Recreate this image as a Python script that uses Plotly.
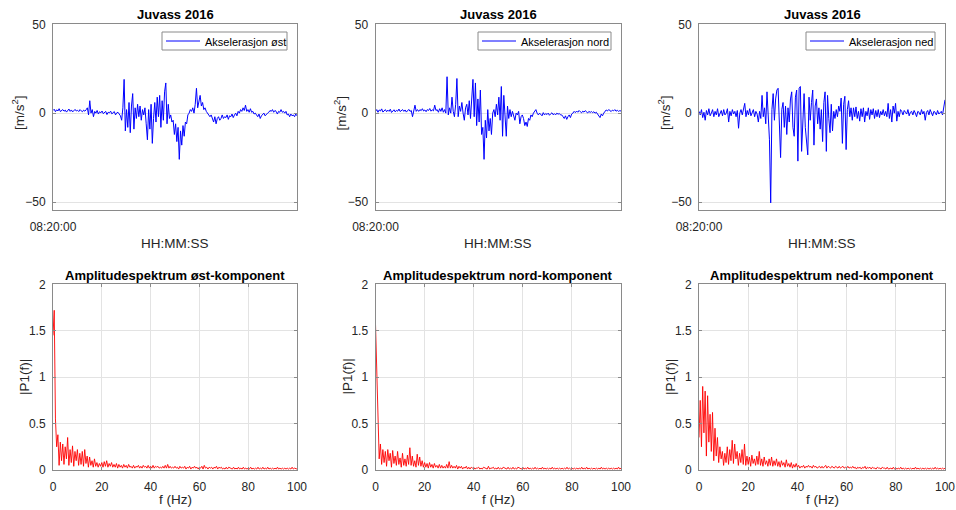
import pandas as pd
import plotly.graph_objects as go

# ---------------------------------------------------------------
# Akselerasjonsmålinger Juvass 2016 (tre komponenter) og amplitudespektre
# ---------------------------------------------------------------

komponenter = ["øst", "nord", "ned"]

a_ost = [
    1.5, 2.2, 0.8, 1.9, 1.2, 2.5, 0.9, 1.6, 2.0, 1.1, 1.7, 0.6, 1.4, 2.3, 1.0, 1.8, 0.7, 1.5, 2.1, 1.2,
    1.6, 0.9, 2.0, 1.3, 0.8, 1.7, 1.1, 1.9,
    3.0, -1.0, 7.0, 0.0, 2.0, -2.0,
    1.0, 0.0, 1.5, -0.5, 0.8, 0.2, 1.2, -0.3, 0.6, 1.0, -0.8, 0.5, 0.2, 1.1, -0.4, 0.3, 0.9, -1.0, 0.2, 0.5,
    -0.7, -1.5,
    -4.0, 3.0, 19.0, -10.0, 2.0, -8.0, 6.0, -11.0, 4.0, 11.0, -9.0, 3.0, -3.0, 5.0, -2.0, 4.0, -4.0, 2.0,
    -1.0, 3.0, -6.0, -15.0, 2.0, -9.0, 5.0, -17.0, -3.0, 6.0, -5.0, 9.0, -2.0, 10.0, -8.0, 7.0, -4.0, 12.0,
    17.0, -6.0, 5.0, -3.0, -1.0, -5.0, -4.0, -12.0, -6.0, -16.0, -8.0, -26.0, -10.0, -18.0, -7.0, -13.0,
    -5.0, -6.0, -1.0, 0.0, 2.0, 1.0, 3.0, 0.0, 5.0, 14.0, 3.0, 8.0, 10.0, 4.0, 6.0, 2.0, 3.0, 1.0, 0.0,
    -1.0, -2.0, -1.0, -3.0, -5.0, -2.0, -6.0, -3.0, -2.0, -4.0, -3.0,
    -1.0, -3.0, -2.0, -2.5, -1.0, -3.5, -1.5, -2.0, -0.5, -2.5, -1.0, 0.0, -1.5,
    1.0, 0.0, 2.0, 1.0, 3.0, 1.5, 4.5, 1.0, 2.0, 0.5, 2.5, 0.5, 1.0, -0.5, 0.0,
    -1.0, -2.0, -0.5, -3.0, -1.5, -1.0, 0.0, -1.5, -0.5, 0.0,
    0.5, 1.5, 1.0, 2.0, 0.5, 1.5, 1.0, -0.5, 1.0, 0.5, 2.0, 0.5, 1.0, 0.0, 1.0,
    -1.0, -0.5, -2.0, -0.5, -1.5, -1.0, -2.0, -0.5, -1.5,
]

a_nord = [
    1.0, 2.0, 0.5, 1.8, 1.2, 2.4, 0.6, 1.5, 2.0, 0.8, 1.7, 1.0, 2.2, 0.4, 1.4, 1.9, 0.7, 1.6, 1.1, 2.3,
    0.9, 1.5, 2.0, 1.0, 1.8, 0.6, 1.3, 2.1, 1.0, 1.5,
    -2.0, 1.5, 4.5, 1.0, 2.0,
    1.0, 2.0, 1.4, 2.5, 1.2, 1.8, 0.8, 2.0, 1.5, 2.6, 1.1, 1.9, 1.3,
    4.5, 1.5, 2.0, 0.5, 2.5, 1.0, 3.0, 0.5, 2.0, 0.0, 20.5, -1.0, 3.0, 0.0, 9.0, 1.0, -2.0, 5.0, 19.5,
    -2.0, 4.0, 1.0, 6.0, 0.0, -4.0, 3.0, 5.0, -1.0, 7.0, -3.0, 10.0, 19.0, -2.0, 17.0, -7.0, 8.0, -5.0,
    13.0, -12.0, -8.0, -26.0, -4.0, -14.0, 2.0, -10.0, -3.0, -12.0, 0.0, 2.0, -2.0, 5.0, -1.0, 9.0,
    -4.0, 15.0, -13.0, 10.0, -6.0, -13.0, 4.0, -3.0, 2.0, -2.0, 1.0, -1.0, -4.0, 0.0, -1.0, 1.0, -6.0,
    -2.0, -1.0, -3.0, -7.0, -5.0, -7.5, -3.0, -4.0, -1.0, -2.0, 0.0, 1.0, 2.0, 0.0,
    -1.0, 0.0, -0.5, -1.5, 0.3, -1.0, -0.2, -0.8, 0.0, -1.2, -0.4, 0.2, -0.9, -0.3, -1.0, 0.0, -0.6,
    -0.2, -1.0,
    -1.0, -2.0, -3.0, -1.5, -3.5, -2.0, -1.0, -2.5, -0.5, 0.0,
    1.0, 0.3, 1.2, 0.5, 1.5, 0.8, 0.2, 1.1, 0.6, 1.4, 0.7, 0.1, 1.0, 0.4, 0.9, 0.3, 0.8, 0.0, 0.5, -0.5,
    -1.0, -2.5, -0.5, -1.5, 0.0,
    1.0, 1.8, 1.2, 2.0, 1.5, 0.9, 1.7, 1.3, 2.0, 1.1, 1.6, 1.0, 1.4, 1.2,
]

a_ned = [
    1.0, -1.0, 2.0, -2.5, 0.5, -4.0, 1.5, -1.0, 2.5, -1.5, 0.0, 2.0, -2.0, 1.0, -1.0, 2.5, -2.0, 0.5,
    1.5, -1.5, 2.0, -1.0, 0.0, 2.5, -5.0, 1.0, -1.5, 2.0, -0.5, 1.0, -2.0, 1.5, -8.5, 0.0, 2.0, -1.0,
    3.0, 5.5, -2.0, 1.5, -1.0, 2.5, -1.5, 0.5, 2.0, -2.0, 1.0, -0.5, -5.0, 1.0,
    -3.0, 10.0, -2.0, 3.0, -6.0, 12.0, -3.0, -15.0, -50.5, 2.0, 11.0, -4.0, 8.0, 13.0, 14.0, -10.0,
    -25.0, 2.0, 6.0, -8.0, 4.0, -12.0, 3.0, -5.0, 8.0, 12.0, -8.0, -13.0, 9.0, 13.0, -27.0, 14.0, 15.0,
    -21.5, -3.0, 11.0, -8.0, -15.0, -23.5, 9.0, -4.0, 6.0, 13.0, -18.0, 4.0, 8.0, -6.0, 3.0, -9.0, 2.0,
    -16.0, 6.0, 12.0, -21.5, 10.0, -3.0, -11.0, 5.0, -10.0, 1.0, -3.0, 2.0, -2.0, 4.0, 1.0, 8.5, -17.0,
    5.0, 9.5, -20.5, 2.0, 7.0, -2.0, 3.0,
    -4.0, 3.0, -2.0, 3.5, -3.0, 1.0, -4.5, 2.5, -2.0, 3.0, -5.0, 1.0, -1.5, 3.0, -3.5, 2.0, -1.0, 2.5,
    -3.0, 1.5, -2.0, 2.0, -2.5, 1.0, -1.0, 2.0, -1.5,
    1.0, -2.0, 5.5, -3.0, 2.0, -5.0, 4.0, 0.0, 5.5, -4.5, 1.0, -2.0, 2.0,
    1.0, -1.0, 1.5, 0.5, -0.5, 2.0, -1.5, 0.5, 1.0, -1.0, 1.5, 0.0, -2.0, 1.0, 0.5, -1.0, 2.0, -0.5,
    1.0, -4.0, 0.5, 1.5, -1.0, 2.0, 0.0, -1.5, 1.0, 0.5, -1.0, 1.5, -0.5, 0.0, 1.0, -1.0, 2.5, 7.5,
]

# Ensidig amplitudespektrum |P1(f)|, 0.5 Hz oppløsning, 0-100 Hz
p_ost = [
    1.45, 1.72, 0.55, 0.25, 0.38, 0.05, 0.30, 0.10, 0.28, 0.06,
    0.25, 0.12, 0.35, 0.05, 0.22, 0.08, 0.26, 0.04, 0.20, 0.10,
    0.22, 0.05, 0.18, 0.06, 0.20, 0.04, 0.22, 0.07, 0.15, 0.03,
    0.14, 0.05, 0.10, 0.03, 0.12, 0.04, 0.08, 0.03, 0.07, 0.04,
    0.08, 0.03, 0.09, 0.04, 0.10, 0.03, 0.07, 0.04, 0.08, 0.03,
    0.06, 0.03, 0.07, 0.02, 0.06, 0.03, 0.05, 0.02, 0.06, 0.03,
    0.05, 0.02, 0.06, 0.03, 0.04, 0.02, 0.05, 0.02, 0.04, 0.03,
    0.05, 0.02, 0.04, 0.02, 0.05, 0.03, 0.04, 0.02, 0.05, 0.02,
    0.04, 0.02, 0.05, 0.02, 0.04, 0.03, 0.04, 0.02, 0.03, 0.02,
    0.04, 0.02, 0.05, 0.02, 0.06, 0.02, 0.04, 0.02, 0.03, 0.02,
    0.04, 0.02, 0.03, 0.01, 0.04, 0.02, 0.03, 0.02, 0.04, 0.01,
    0.03, 0.02, 0.04, 0.01, 0.03, 0.02, 0.04, 0.02, 0.03, 0.01,
    0.03, 0.02, 0.04, 0.01, 0.05, 0.02, 0.03, 0.01, 0.03, 0.02,
    0.03, 0.01, 0.03, 0.02, 0.04, 0.01, 0.03, 0.02, 0.03, 0.01,
    0.02, 0.01, 0.03, 0.01, 0.03, 0.02, 0.02, 0.01, 0.03, 0.01,
    0.02, 0.01, 0.03, 0.01, 0.02, 0.01, 0.03, 0.01, 0.02, 0.01,
    0.02, 0.01, 0.03, 0.01, 0.02, 0.01, 0.02, 0.01, 0.03, 0.01,
    0.02, 0.01, 0.03, 0.01, 0.02, 0.01, 0.03, 0.01, 0.02, 0.01,
    0.02, 0.01, 0.02, 0.01, 0.03, 0.01, 0.02, 0.01, 0.02, 0.01,
    0.02, 0.01, 0.02, 0.01, 0.02, 0.01, 0.03, 0.01, 0.02, 0.01,
    0.01,
]

p_nord = [
    1.57, 1.00, 0.40, 0.12, 0.28, 0.06, 0.22, 0.08, 0.20, 0.04,
    0.22, 0.10, 0.18, 0.03, 0.21, 0.07, 0.15, 0.05, 0.20, 0.06,
    0.13, 0.03, 0.18, 0.05, 0.12, 0.04, 0.16, 0.06, 0.24, 0.05,
    0.15, 0.04, 0.10, 0.03, 0.17, 0.05, 0.14, 0.04, 0.10, 0.03,
    0.08, 0.03, 0.07, 0.02, 0.08, 0.03, 0.06, 0.02, 0.07, 0.03,
    0.05, 0.02, 0.06, 0.02, 0.05, 0.02, 0.04, 0.02, 0.06, 0.02,
    0.09, 0.02, 0.05, 0.02, 0.04, 0.02, 0.05, 0.01, 0.04, 0.02,
    0.04, 0.01, 0.03, 0.02, 0.04, 0.01, 0.03, 0.01, 0.03, 0.02,
    0.03, 0.01, 0.02, 0.02, 0.03, 0.01, 0.02, 0.01, 0.03, 0.02,
    0.02, 0.01, 0.04, 0.01, 0.02, 0.02, 0.03, 0.01, 0.02, 0.01,
    0.03, 0.01, 0.02, 0.01, 0.03, 0.02, 0.02, 0.01, 0.03, 0.01,
    0.02, 0.01, 0.03, 0.01, 0.02, 0.01, 0.03, 0.02, 0.02, 0.01,
    0.03, 0.01, 0.02, 0.01, 0.03, 0.01, 0.02, 0.01, 0.02, 0.01,
    0.03, 0.01, 0.02, 0.01, 0.02, 0.01, 0.03, 0.01, 0.02, 0.01,
    0.02, 0.01, 0.02, 0.01, 0.03, 0.01, 0.02, 0.01, 0.02, 0.01,
    0.02, 0.01, 0.02, 0.01, 0.02, 0.01, 0.03, 0.01, 0.02, 0.01,
    0.02, 0.01, 0.02, 0.01, 0.02, 0.01, 0.02, 0.01, 0.03, 0.01,
    0.02, 0.01, 0.03, 0.01, 0.02, 0.01, 0.02, 0.01, 0.02, 0.01,
    0.02, 0.01, 0.02, 0.01, 0.03, 0.01, 0.02, 0.01, 0.02, 0.01,
    0.02, 0.01, 0.02, 0.01, 0.02, 0.01, 0.02, 0.01, 0.03, 0.01,
    0.02,
]

p_ned = [
    0.35, 0.75, 0.25, 0.90, 0.40, 0.85, 0.15, 0.80, 0.30, 0.60,
    0.20, 0.62, 0.10, 0.45, 0.15, 0.35, 0.08, 0.25, 0.12, 0.20,
    0.05, 0.18, 0.08, 0.25, 0.06, 0.22, 0.10, 0.32, 0.07, 0.28,
    0.12, 0.20, 0.05, 0.18, 0.08, 0.22, 0.06, 0.28, 0.05, 0.15,
    0.06, 0.14, 0.04, 0.16, 0.07, 0.12, 0.05, 0.15, 0.06, 0.20,
    0.05, 0.12, 0.04, 0.14, 0.06, 0.10, 0.04, 0.12, 0.05, 0.14,
    0.04, 0.10, 0.05, 0.12, 0.04, 0.09, 0.03, 0.10, 0.05, 0.08,
    0.03, 0.11, 0.04, 0.07, 0.03, 0.08, 0.02, 0.06, 0.03, 0.07,
    0.03, 0.05, 0.02, 0.04, 0.03, 0.05, 0.02, 0.04, 0.03, 0.05,
    0.03, 0.04, 0.02, 0.05, 0.03, 0.04, 0.02, 0.03, 0.04, 0.02,
    0.04, 0.02, 0.03, 0.05, 0.02, 0.04, 0.03, 0.02, 0.04, 0.03,
    0.02, 0.04, 0.03, 0.02, 0.04, 0.02, 0.03, 0.04, 0.02, 0.03,
    0.02, 0.04, 0.02, 0.03, 0.02, 0.04, 0.02, 0.03, 0.01, 0.03,
    0.02, 0.03, 0.01, 0.03, 0.02, 0.04, 0.01, 0.03, 0.02, 0.03,
    0.01, 0.03, 0.02, 0.02, 0.01, 0.03, 0.02, 0.02, 0.01, 0.03,
    0.02, 0.02, 0.01, 0.03, 0.01, 0.02, 0.02, 0.01, 0.03, 0.01,
    0.02, 0.01, 0.02, 0.01, 0.03, 0.01, 0.02, 0.01, 0.02, 0.01,
    0.02, 0.01, 0.02, 0.01, 0.02, 0.01, 0.03, 0.01, 0.02, 0.01,
    0.02, 0.01, 0.02, 0.01, 0.02, 0.01, 0.02, 0.01, 0.02, 0.01,
    0.02, 0.01, 0.03, 0.01, 0.02, 0.01, 0.02, 0.01, 0.02, 0.01,
    0.02,
]

signaler = [a_ost, a_nord, a_ned]
spektre = [p_ost, p_nord, p_ned]

start = pd.Timestamp("2016-01-01 08:20:00")
varighet_s = 40
df_hz = 0.5

W, H = 956, 510
FONT = "Liberation Sans, Arial, Helvetica, sans-serif"
TXT = "#262626"
AX = "#8a8a8a"
GRID = "#e3e3e3"
BLAA = "#0000ff"
ROED = "#ff0000"

# pikselgrenser for akseboksene (venstre, høyre)
kol = [(53, 297), (375.5, 621), (699, 945)]
topp_y = (24.3, 210)
bunn_y = (284.3, 470)
# forklaringsbokser (venstre kant) i hvert øvre panel
leg_venstre = [162, 478, 806]


def fx(px):
    return px / W


def fy(py):
    return 1 - py / H


fig = go.Figure()

for i, (navn, a, p) in enumerate(zip(komponenter, signaler, spektre)):
    t = pd.date_range(start, start + pd.Timedelta(seconds=varighet_s), periods=len(a))
    f = [k * df_hz for k in range(len(p))]
    sx = "" if i == 0 else str(i + 1)
    fig.add_trace(go.Scatter(
        x=t, y=a, mode="lines", name=f"Akselerasjon {navn}",
        line=dict(color=BLAA, width=1), xaxis=f"x{sx}", yaxis=f"y{sx}",
        showlegend=False,
    ))
    fig.add_trace(go.Scatter(
        x=f, y=p, mode="lines", name=f"|P1(f)| {navn}",
        line=dict(color=ROED, width=0.9), xaxis=f"x{i + 4}", yaxis=f"y{i + 4}",
        showlegend=False,
    ))

common = dict(
    showline=True, linecolor=AX, linewidth=1, mirror="ticks",
    ticks="inside", ticklen=3, tickcolor=AX, automargin=False,
    showgrid=True, gridcolor=GRID, gridwidth=1, zeroline=False,
    tickfont=dict(family=FONT, size=12, color=TXT),
)

layout = dict(
    width=W, height=H, margin=dict(l=0, r=0, t=0, b=0, pad=0, autoexpand=False),
    paper_bgcolor="white", plot_bgcolor="white",
    font=dict(family=FONT, color=TXT), showlegend=False,
)

end = start + pd.Timedelta(seconds=varighet_s)
annotations = []
shapes = []
for i in range(3):
    x0, x1 = kol[i]
    sx = "" if i == 0 else str(i + 1)
    layout[f"xaxis{sx}"] = dict(
        common, domain=[fx(x0), fx(x1)], anchor=f"y{sx}",
        type="date", range=[start, end], tickvals=[start],
        tickformat="%H:%M:%S", ticklabelstandoff=6,
    )
    layout[f"yaxis{sx}"] = dict(
        common, domain=[fy(topp_y[1]), fy(topp_y[0])], anchor=f"x{sx}",
        range=[-54.5, 50], tickvals=[-50, 0, 50], ticklabelstandoff=4,
    )
    layout[f"xaxis{i + 4}"] = dict(
        common, domain=[fx(x0), fx(x1)], anchor=f"y{i + 4}",
        range=[0, 100], tickvals=[0, 20, 40, 60, 80, 100], ticklabelstandoff=6,
    )
    layout[f"yaxis{i + 4}"] = dict(
        common, domain=[fy(bunn_y[1]), fy(bunn_y[0])], anchor=f"x{i + 4}",
        range=[0, 2], tickvals=[0, 0.5, 1, 1.5, 2], ticklabelstandoff=4,
    )

    # forklaring: ramme, linjeprøve og tekst
    lx0, lx1 = leg_venstre[i], x1 - 10
    shapes += [
        dict(type="rect", xref="paper", yref="paper", layer="above",
             x0=fx(lx0), x1=fx(lx1), y0=fy(50), y1=fy(32),
             line=dict(color=AX, width=1), fillcolor="white"),
        dict(type="line", xref="paper", yref="paper", layer="above",
             x0=fx(lx0 + 4), x1=fx(lx0 + 38), y0=fy(41), y1=fy(41),
             line=dict(color=BLAA, width=1)),
    ]
    annotations.append(dict(
        text=f"Akselerasjon {komponenter[i]}", x=fx(lx0 + 41), y=fy(41.5),
        showarrow=False, xref="paper", yref="paper", xanchor="left", yanchor="middle",
        font=dict(family=FONT, size=11, color="#000000")))

    cx = (x0 + x1) / 2
    annotations += [
        dict(text="<b>Juvass 2016</b>", x=fx(cx), y=fy(14), showarrow=False,
             xref="paper", yref="paper", xanchor="center", yanchor="middle",
             font=dict(family=FONT, size=13, color="#000000")),
        dict(text="HH:MM:SS", x=fx(cx), y=fy(243), showarrow=False,
             xref="paper", yref="paper", xanchor="center", yanchor="middle",
             font=dict(family=FONT, size=13.5, color=TXT)),
        dict(text="[m/s<sup>2</sup>]", x=fx(x0 - 35), y=fy(113), showarrow=False,
             xref="paper", yref="paper", xanchor="center", yanchor="middle",
             textangle=-90, font=dict(family=FONT, size=13.5, color=TXT)),
        dict(text=f"<b>Amplitudespektrum {komponenter[i]}-komponent</b>",
             x=fx(cx), y=fy(275), showarrow=False,
             xref="paper", yref="paper", xanchor="center", yanchor="middle",
             font=dict(family=FONT, size=13, color="#000000")),
        dict(text="f (Hz)", x=fx(cx), y=fy(499), showarrow=False,
             xref="paper", yref="paper", xanchor="center", yanchor="middle",
             font=dict(family=FONT, size=13.5, color=TXT)),
        dict(text="|P1(f)|", x=fx(x0 - 29), y=fy(377), showarrow=False,
             xref="paper", yref="paper", xanchor="center", yanchor="middle",
             textangle=-90, font=dict(family=FONT, size=13.5, color=TXT)),
    ]

layout["annotations"] = annotations
layout["shapes"] = shapes
fig.update_layout(**layout)

fig.write_html("out.html")
